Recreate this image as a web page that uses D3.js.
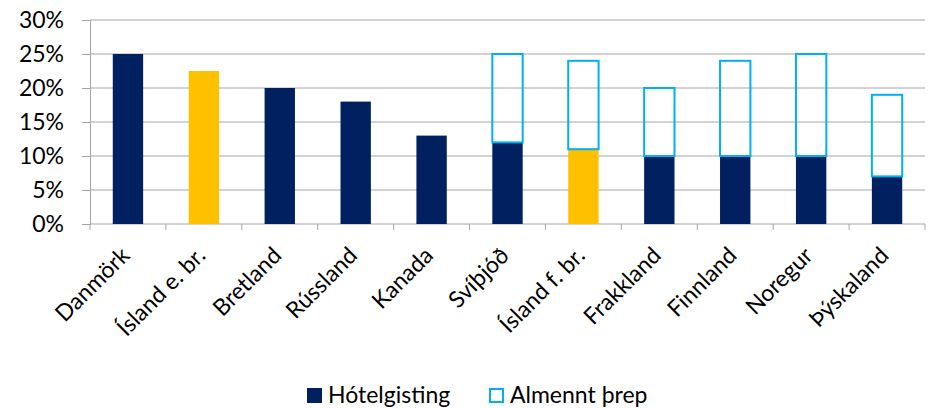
<!DOCTYPE html>
<html>
<head>
<meta charset="utf-8">
<script src="https://cdn.jsdelivr.net/npm/d3@7"></script>
<style>
  body { margin: 0; background: #fff; }
  text { font-family: Lato, "Open Sans", sans-serif; fill: #000; }
</style>
</head>
<body>
<div id="chart"></div>
<script>
const width = 933, height = 409;
const margin = {top: 20, right: 8, bottom: 185, left: 90};

const countries = ["Danmörk", "Ísland e. br.", "Bretland", "Rússland", "Kanada", "Svíþjóð",
                   "Ísland f. br.", "Frakkland", "Finnland", "Noregur", "Þýskaland"];
const hotel   = [25, 22.5, 20, 18, 13, 12, 11, 10, 10, 10, 7];
const general = [0, 0, 0, 0, 0, 13, 13, 10, 14, 15, 12];
const highlighted = ["Ísland e. br.", "Ísland f. br."];
const yTicks = [0, 5, 10, 15, 20, 25, 30];
const seriesNames = ["Hótelgisting", "Almennt þrep"];

const navy = "#002060", gold = "#FFC000", cyan = "#00B0F0";

const svg = d3.select("#chart").append("svg")
  .attr("width", width)
  .attr("height", height);

const plotW = 925 - margin.left,
      plotH = 224 - margin.top;

const g = svg.append("g")
  .attr("transform", `translate(${margin.left},${margin.top})`);

const x = d3.scaleBand()
  .domain(countries)
  .range([0, plotW])
  .paddingInner(0.6)
  .paddingOuter(0.3);

const y = d3.scaleLinear()
  .domain([0, 30])
  .range([plotH, 0]);

// gridlines
g.selectAll("line.grid")
  .data(yTicks)
  .join("line")
  .attr("class", "grid")
  .attr("x1", 0)
  .attr("x2", plotW)
  .attr("y1", d => y(d))
  .attr("y2", d => y(d))
  .attr("stroke", "#a6a6a6")
  .attr("stroke-width", 1);

// y axis
const yAxis = g.append("g")
  .call(d3.axisLeft(y).tickValues(yTicks).tickFormat(d => d + "%").tickSize(8).tickPadding(18));
yAxis.select(".domain").attr("stroke", "#a6a6a6");
yAxis.selectAll(".tick line").attr("stroke", "#a6a6a6");
yAxis.selectAll(".tick text").style("font-size", "23px");

// x axis ticks at band boundaries
const boundaries = d3.range(countries.length + 1).map(i => i * plotW / countries.length);
g.selectAll("line.xtick")
  .data(boundaries)
  .join("line")
  .attr("class", "xtick")
  .attr("x1", d => d)
  .attr("x2", d => d)
  .attr("y1", plotH)
  .attr("y2", plotH + 6)
  .attr("stroke", "#a6a6a6");

// bottom segments
const data = countries.map((c, i) => ({country: c, hotel: hotel[i], general: general[i]}));

g.selectAll("rect.hotel")
  .data(data)
  .join("rect")
  .attr("class", "hotel")
  .attr("x", d => x(d.country))
  .attr("width", x.bandwidth())
  .attr("y", d => y(d.hotel))
  .attr("height", d => y(0) - y(d.hotel))
  .attr("fill", d => highlighted.includes(d.country) ? gold : navy);

// top outlined segments
g.selectAll("rect.general")
  .data(data.filter(d => d.general > 0))
  .join("rect")
  .attr("class", "general")
  .attr("x", d => x(d.country))
  .attr("width", x.bandwidth())
  .attr("y", d => y(d.hotel + d.general))
  .attr("height", d => y(d.hotel) - y(d.hotel + d.general))
  .attr("fill", "none")
  .attr("stroke", cyan)
  .attr("stroke-width", 2);

// x labels
g.selectAll("text.xlabel")
  .data(countries)
  .join("text")
  .attr("class", "xlabel")
  .attr("text-anchor", "end")
  .attr("transform", d => `translate(${x(d) + x.bandwidth() / 2 + 3},${plotH + 33}) rotate(-45)`)
  .style("font-size", "23px")
  .text(d => d);

// legend
const legend = svg.append("g").attr("transform", "translate(307,388)");
const items = legend.selectAll("g")
  .data(seriesNames)
  .join("g")
  .attr("transform", (d, i) => `translate(${i * 182},0)`);
items.append("rect")
  .attr("x", d => d === seriesNames[0] ? 0 : 1)
  .attr("y", d => d === seriesNames[0] ? 0 : 1)
  .attr("width", d => d === seriesNames[0] ? 15 : 13)
  .attr("height", d => d === seriesNames[0] ? 15 : 13)
  .attr("fill", d => d === seriesNames[0] ? navy : "none")
  .attr("stroke", d => d === seriesNames[0] ? "none" : cyan)
  .attr("stroke-width", 2);
items.append("text")
  .attr("x", 21)
  .attr("y", 15)
  .style("font-size", "23px")
  .text(d => d);
</script>
</body>
</html>
